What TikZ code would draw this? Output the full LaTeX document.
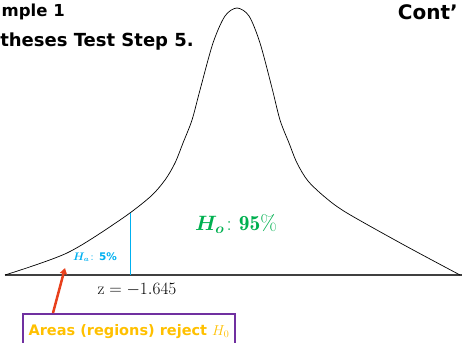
\documentclass[tikz,border=0pt]{standalone}
\usepackage{fontspec}
\usepackage{amsmath}
\newfontfamily\headfont{DejaVu Sans}
\usetikzlibrary{arrows.meta}
\definecolor{tailblue}{HTML}{00B0F0}
\definecolor{keepgreen}{HTML}{00B050}
\definecolor{arrowred}{HTML}{E8401C}
\definecolor{boxpurple}{HTML}{7030A0}
\definecolor{labelgold}{HTML}{FFC000}
\newcommand{\altlabel}{$\boldsymbol{H_a}\colon$\thinspace{\headfont\bfseries 5\%}}
\newcommand{\nulllabel}{$\boldsymbol{H_o}\colon\mathbf{95\%}$}
\tikzset{
  headline/.style={inner sep=0pt, anchor=base east},
  tailcut/.style={tailblue, line width=0.8pt},
  rejectbox/.style={draw=boxpurple, line width=1.5pt, minimum width=212pt,
    minimum height=36pt, anchor=north, text=labelgold,
    font=\headfont\bfseries\fontsize{14.5}{16}\selectfont},
}
\begin{document}
\begin{tikzpicture}[x=1pt,y=-1pt]
  \useasboundingbox (0,0) rectangle (462,342);
  % heading lines, cut off at the page edges
  \node[headline, font=\headfont\bfseries\fontsize{16.5}{20}\selectfont] (example) at (65,17) {mple 1};
  \node[headline, font=\headfont\bfseries\fontsize{18}{20}\selectfont] (step) at (194,47) {theses Test Step 5.};
  \node[headline, font=\headfont\bfseries\fontsize{20}{24}\selectfont] (cont) at (458,20) {Cont’};
  % axis and density curve
  \coordinate (left) at (5,275);
  \coordinate (right) at (462,275);
  \draw[line width=1.2pt, black!75] (left) -- (right);
  \draw[line width=0.7pt] plot[smooth, tension=0.5] coordinates {
    (5,275) (67,253) (120,220) (150,197) (165,180) (175,163) (183,143)
    (192,120) (200,90) (213,43) (225,16) (237,8) (249,16) (260,43)
    (272,88) (280,120) (289,143) (297,163) (308,181) (326,198) (347,213)
    (404,245) (460,275)};
  % critical value
  \coordinate (cutbase) at (130,275);
  \coordinate (cuttop) at (130,213);
  \draw[tailcut] (cutbase) -- (cuttop);
  \node[font=\fontsize{17}{20}\selectfont] (zval) at (137,290) {$\mathrm{z} = -1.645$};
  % area labels
  \node[text=tailblue, font=\fontsize{10.5}{12}\selectfont] (altarea) at (95,257) {\altlabel};
  \node[text=keepgreen, font=\fontsize{21.5}{24}\selectfont] (nullarea) at (236,224) {\nulllabel};
  % rejection note
  \node[rejectbox] (note) at (129,313) {Areas (regions) reject $H_0$};
  \coordinate (tip) at (65,268);
  \draw[arrowred, line width=2.5pt, -{Triangle[length=6pt,width=7pt]}]
    ([xshift=-76pt]note.north) -- (tip);
\end{tikzpicture}
\end{document}
